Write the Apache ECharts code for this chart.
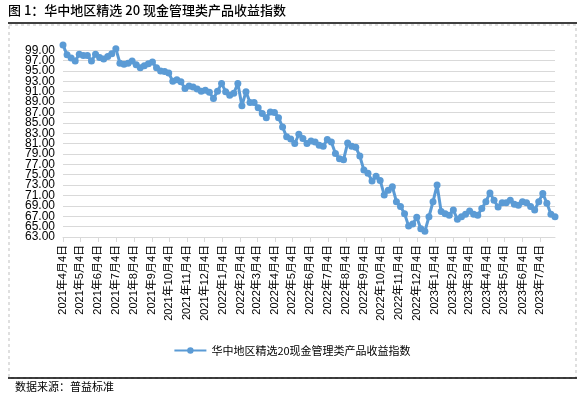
<!DOCTYPE html>
<html>
<head>
<meta charset="utf-8">
<script src="https://cdn.jsdelivr.net/npm/echarts@6/dist/echarts.min.js"></script>
<style>
html, body { margin: 0; padding: 0; background: #fff; }
#chart { width: 584px; height: 398px; }
</style>
</head>
<body>
<div id="chart"></div>
<script>
// weekly index values, first week 2021-04-04
const startDate = '2021-04-04';
const indexValues = [
    100.0, 98.1, 97.5, 96.9, 98.2, 98.0, 98.0, 96.9, 98.2, 97.6,
    97.3, 97.8, 98.3, 99.3, 96.5, 96.3, 96.5, 96.9, 96.2, 95.6,
    96.0, 96.4, 96.7, 95.6, 95.0, 94.9, 94.6, 93.0, 93.3, 92.9,
    91.6, 92.1, 91.9, 91.5, 91.1, 91.3, 90.9, 89.7, 91.1, 92.6,
    91.0, 90.3, 90.7, 92.6, 88.3, 91.0, 88.9, 88.9, 87.9, 86.8,
    86.0, 87.1, 87.0, 86.0, 84.2, 82.3, 81.9, 81.0, 82.8, 82.0,
    81.0, 81.5, 81.3, 80.7, 80.5, 81.8, 81.3, 79.1, 78.1, 77.9,
    81.1, 80.5, 80.3, 78.6, 75.9, 75.3, 73.8, 74.7, 73.9, 71.1,
    72.0, 72.7, 69.8, 68.9, 67.5, 65.1, 65.5, 66.8, 64.6, 64.1,
    66.9, 69.8, 73.0, 67.9, 67.5, 67.2, 68.2, 66.4, 66.9, 67.4,
    68.0, 67.4, 67.2, 68.5, 69.8, 71.5, 70.1, 68.8, 69.6, 69.6,
    70.1, 69.3, 69.1, 69.8, 69.6, 68.9, 68.2, 69.8, 71.4, 69.5,
    67.4, 66.9
];
const monthTicks = [
    '2021-04-04', '2021-05-04', '2021-06-04', '2021-07-04', '2021-08-04', '2021-09-04',
    '2021-10-04', '2021-11-04', '2021-12-04', '2022-01-04', '2022-02-04', '2022-03-04',
    '2022-04-04', '2022-05-04', '2022-06-04', '2022-07-04', '2022-08-04', '2022-09-04',
    '2022-10-04', '2022-11-04', '2022-12-04', '2023-01-04', '2023-02-04', '2023-03-04',
    '2023-04-04', '2023-05-04', '2023-06-04', '2023-07-04'
];
const yTicks = [63, 65, 67, 69, 71, 73, 75, 77, 79, 81, 83, 85, 87, 89, 91, 93, 95, 97, 99];
const seriesName = '华中地区精选20现金管理类产品收益指数';

function toTs(s) {
    const p = s.split('-');
    return Date.UTC(+p[0], +p[1] - 1, +p[2]);
}

const DAY = 24 * 3600 * 1000;
const start = toTs(startDate);
const points = indexValues.map((v, i) => [start + i * 7 * DAY, v]);
const tickTs = monthTicks.map(toTs);

// labels are closer than their height, so split them over two stacked axes
// to keep ECharts from dropping any of them
function yAxisDef(ticks, withGrid) {
    return {
        type: 'value',
        position: 'left',
        min: 63,
        max: 100,
        interval: 2,
        axisLine: { show: false },
        axisTick: { show: false },
        axisLabel: {
            customValues: ticks,
            showMinLabel: true,
            showMaxLabel: true,
            hideOverlap: false,
            margin: 8,
            fontSize: 12,
            color: '#000',
            formatter(v) {
                return v.toFixed(2);
            }
        },
        splitLine: {
            show: withGrid,
            showMaxLine: false,
            lineStyle: { color: '#D9D9D9', width: 1 }
        }
    };
}

const chart = echarts.init(document.getElementById('chart'));
chart.setOption({
    animation: false,
    textStyle: {
        fontFamily: '"Liberation Sans", "Noto Sans CJK SC", sans-serif'
    },
    grid: {
        left: 63,
        right: 29,
        top: 45,
        bottom: 161
    },
    legend: {
        data: [seriesName],
        left: 'center',
        top: 340,
        itemWidth: 32,
        itemHeight: 8,
        textStyle: {
            fontSize: 11,
            color: '#000',
            fontFamily: '"Noto Sans CJK SC", sans-serif'
        }
    },
    xAxis: {
        type: 'value',
        min: start,
        max: points[points.length - 1][0],
        axisLine: {
            lineStyle: { color: '#D9D9D9', width: 1 }
        },
        axisTick: {
            customValues: tickTs,
            length: 5,
            lineStyle: { color: '#D9D9D9' }
        },
        axisLabel: {
            customValues: tickTs,
            rotate: 90,
            margin: 8,
            fontSize: 11,
            color: '#000',
            formatter(val) {
                const d = new Date(val);
                return d.getUTCFullYear() + '年' + (d.getUTCMonth() + 1) + '月' + d.getUTCDate() + '日';
            }
        },
        splitLine: { show: false }
    },
    yAxis: [
        yAxisDef(yTicks.filter((t, i) => i % 2 === 0), true),
        yAxisDef(yTicks.filter((t, i) => i % 2 === 1), false)
    ],
    series: [
        {
            name: seriesName,
            type: 'line',
            data: points,
            symbol: 'circle',
            symbolSize: 7,
            showAllSymbol: true,
            color: '#5B9BD5',
            lineStyle: { width: 3, color: '#5B9BD5' },
            itemStyle: { color: '#5B9BD5' }
        }
    ],
    graphic: [
        {
            type: 'text',
            left: 8,
            top: 4,
            style: {
                text: '图 1：华中地区精选 20 现金管理类产品收益指数',
                font: '500 13px "Noto Sans CJK SC", sans-serif',
                fill: '#000'
            }
        },
        {
            type: 'line',
            shape: { x1: 8, y1: 23, x2: 577, y2: 23 },
            style: { stroke: '#000', lineWidth: 1.5 }
        },
        {
            type: 'rect',
            shape: { x: 9, y: 25, width: 567, height: 353 },
            style: { fill: 'none', stroke: '#BFBFBF', lineWidth: 1, lineDash: [3, 3] }
        },
        {
            type: 'line',
            shape: { x1: 8, y1: 378, x2: 577, y2: 378 },
            style: { stroke: '#000', lineWidth: 1.5 }
        },
        {
            type: 'text',
            left: 15,
            top: 381,
            style: {
                text: '数据来源：普益标准',
                font: '11px "Noto Sans CJK SC", sans-serif',
                fill: '#000'
            }
        }
    ]
});
</script>
</body>
</html>
